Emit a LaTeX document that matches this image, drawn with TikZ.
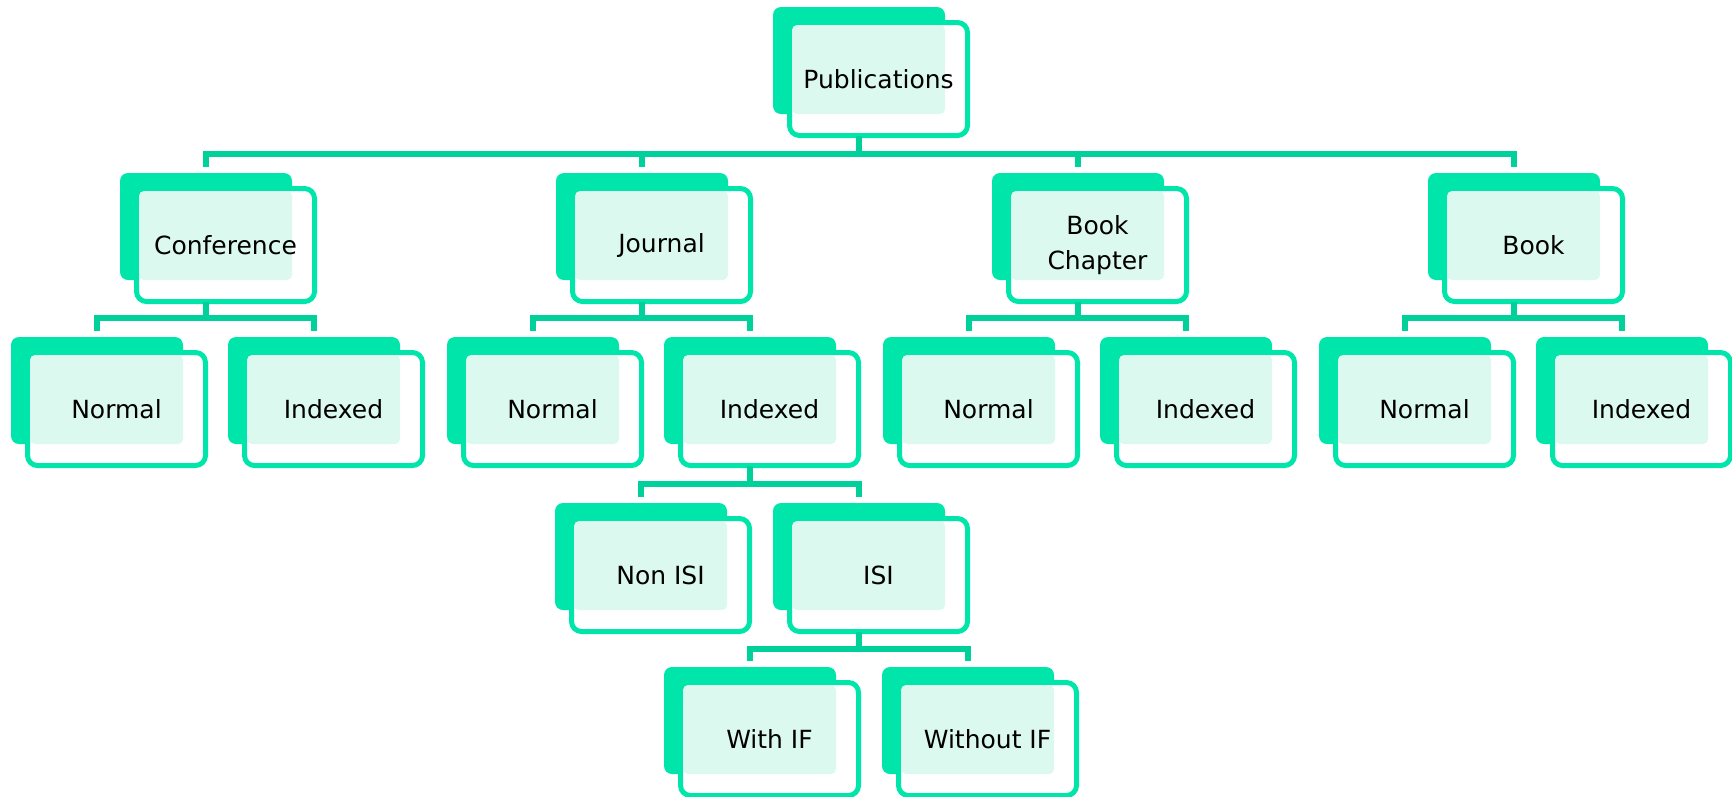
\documentclass[tikz,border=0pt]{standalone}
\usepackage{fontspec}
\setmainfont{DejaVu Sans}
\definecolor{bk}{RGB}{0,229,170}
\definecolor{cn}{RGB}{0,208,154}
\definecolor{pt}{RGB}{220,249,239}
\tikzset{
  back/.style={fill=bk, draw=none, rounded corners=8pt, minimum width=172pt, minimum height=107pt, inner sep=0pt, outer sep=0pt, anchor=north west},
  front/.style={draw=bk, fill=white, line width=5pt, rounded corners=10pt, minimum width=178pt, minimum height=113pt, inner sep=0pt, outer sep=0pt, anchor=north west},
  patt/.style={fill=pt, rounded corners=5pt},
  lbl/.style={font=\fontsize{25}{35}\selectfont, align=center, text=black, inner sep=0pt},
  conn/.style={draw=cn, line width=5.5pt, line join=miter},
}
\newcommand\pubbox[4]{%
  \node[back] (#1-b) at (#2,#3) {};
  \node[front] (#1-f) at (#2+16.5,#3+15.5) {};
  \fill[patt] (#2+19,#3+18) rectangle (#2+172,#3+107);
  \node[lbl] (#1) at (#1-f.center) {#4};
}
\begin{document}
\begin{tikzpicture}[x=1pt,y=-1pt]
\useasboundingbox (0,0) rectangle (1732,796);
% buses
\coordinate (bus0) at (0,154);
\coordinate (bus1) at (0,318);
\coordinate (bus2) at (0,484);
\coordinate (bus3) at (0,649);
% boxes
\pubbox{pub}{773}{7}{Publications}
\pubbox{conf}{120}{173}{Conference}
\pubbox{jour}{556}{173}{Journal}
\pubbox{bch}{992}{173}{Book\\Chapter}
\pubbox{book}{1428}{173}{Book}
\pubbox{confn}{11}{337}{Normal}
\pubbox{confi}{228}{337}{Indexed}
\pubbox{journ}{447}{337}{Normal}
\pubbox{jouri}{664}{337}{Indexed}
\pubbox{bchn}{883}{337}{Normal}
\pubbox{bchi}{1100}{337}{Indexed}
\pubbox{bookn}{1319}{337}{Normal}
\pubbox{booki}{1536}{337}{Indexed}
\pubbox{nonisi}{555}{503}{Non ISI}
\pubbox{isi}{773}{503}{ISI}
\pubbox{withif}{664}{667}{With IF}
\pubbox{woif}{882}{667}{Without IF}
% connectors
\draw[conn] (pub-b |- pub-f.south) -- (pub-b |- bus0);
\draw[conn] ([yshift=6pt]conf-b.north) -- (conf-b |- bus0) -- (book-b |- bus0) -- ([yshift=6pt]book-b.north);
\draw[conn] (jour-b |- bus0) -- ([yshift=6pt]jour-b.north);
\draw[conn] (bch-b |- bus0) -- ([yshift=6pt]bch-b.north);
%
\draw[conn] (conf-b |- conf-f.south) -- (conf-b |- bus1);
\draw[conn] ([yshift=6pt]confn-b.north) -- (confn-b |- bus1) -- (confi-b |- bus1) -- ([yshift=6pt]confi-b.north);
\draw[conn] (jour-b |- jour-f.south) -- (jour-b |- bus1);
\draw[conn] ([yshift=6pt]journ-b.north) -- (journ-b |- bus1) -- (jouri-b |- bus1) -- ([yshift=6pt]jouri-b.north);
\draw[conn] (bch-b |- bch-f.south) -- (bch-b |- bus1);
\draw[conn] ([yshift=6pt]bchn-b.north) -- (bchn-b |- bus1) -- (bchi-b |- bus1) -- ([yshift=6pt]bchi-b.north);
\draw[conn] (book-b |- book-f.south) -- (book-b |- bus1);
\draw[conn] ([yshift=6pt]bookn-b.north) -- (bookn-b |- bus1) -- (booki-b |- bus1) -- ([yshift=6pt]booki-b.north);
%
\draw[conn] (jouri-b |- jouri-f.south) -- (jouri-b |- bus2);
\draw[conn] ([yshift=6pt]nonisi-b.north) -- (nonisi-b |- bus2) -- (isi-b |- bus2) -- ([yshift=6pt]isi-b.north);
%
\draw[conn] (isi-b |- isi-f.south) -- (isi-b |- bus3);
\draw[conn] ([yshift=6pt]withif-b.north) -- (withif-b |- bus3) -- (woif-b |- bus3) -- ([yshift=6pt]woif-b.north);
\end{tikzpicture}
\end{document}
